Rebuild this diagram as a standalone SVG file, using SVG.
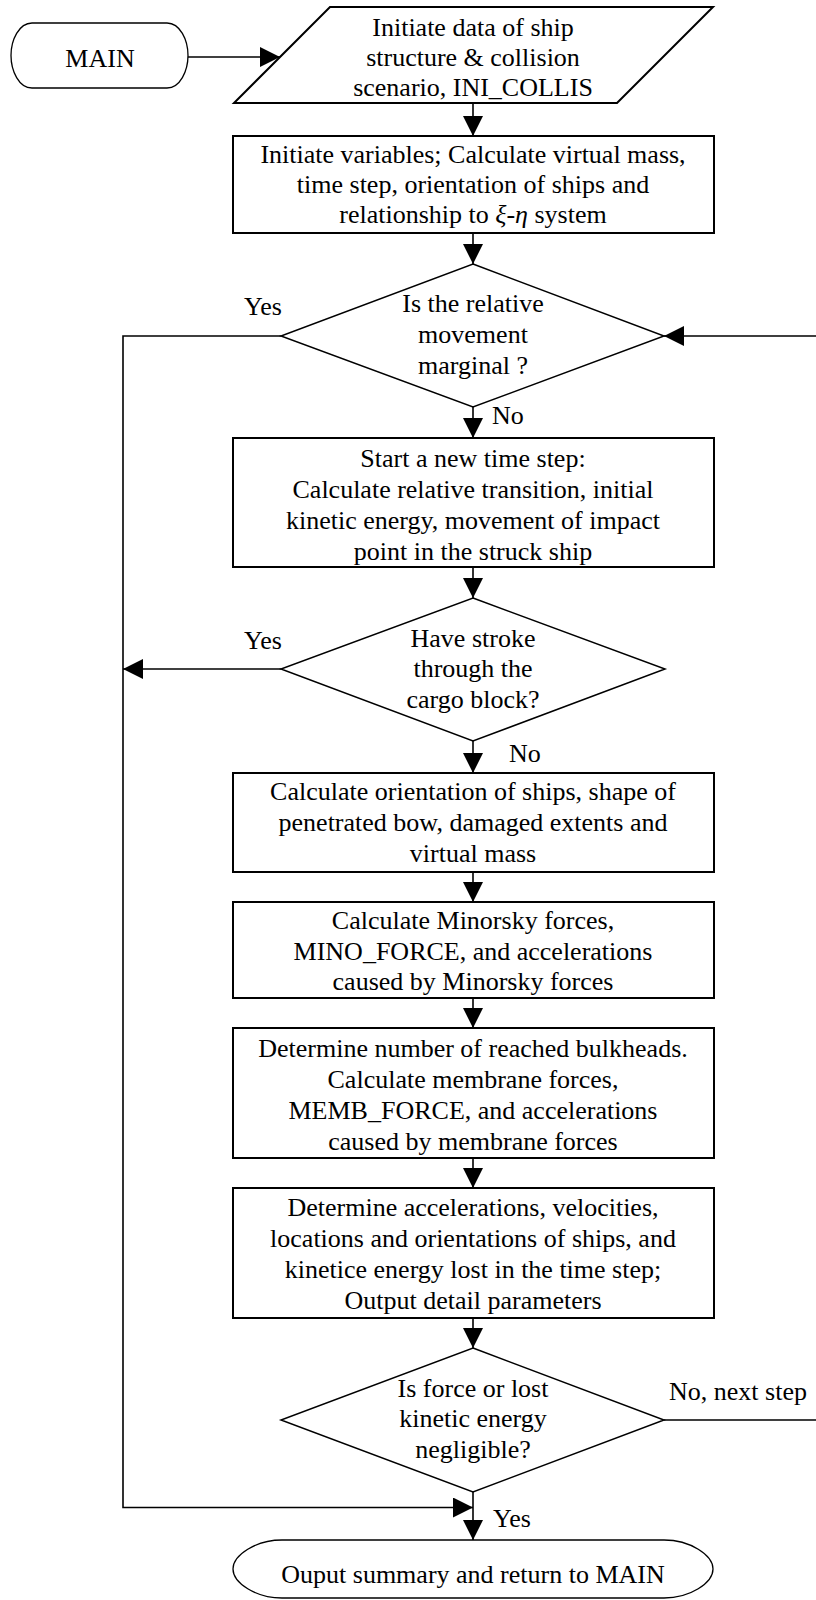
<svg xmlns="http://www.w3.org/2000/svg" width="816" height="1600" viewBox="0 0 816 1600">
<style>
  text { font-family: "Liberation Serif", "Times New Roman", serif; font-size: 26px; fill: #000; }
  .c { text-anchor: middle; }
  .box { fill: #fff; stroke: #000; stroke-width: 2; }
  .dia { fill: #fff; stroke: #000; stroke-width: 1.5; }
  .term { fill: #fff; stroke: #000; stroke-width: 1.3; }
  .conn { fill: none; stroke: #000; stroke-width: 1.6; }
  .i { font-style: italic; }
</style>
<defs>
  <marker id="arr" markerUnits="userSpaceOnUse" markerWidth="22" markerHeight="22" refX="20" refY="10" orient="auto">
    <path d="M0,0 L20,10 L0,20 Z" fill="#000"/>
  </marker>
</defs>

<g id="connectors">
  <path class="conn" d="M188,57 H280" marker-end="url(#arr)"/>
  <path class="conn" d="M473,103 V136" marker-end="url(#arr)"/>
  <path class="conn" d="M473,233 V264" marker-end="url(#arr)"/>
  <path class="conn" d="M473,407 V438" marker-end="url(#arr)"/>
  <path class="conn" d="M473,567 V598" marker-end="url(#arr)"/>
  <path class="conn" d="M473,741 V773" marker-end="url(#arr)"/>
  <path class="conn" d="M473,872 V902" marker-end="url(#arr)"/>
  <path class="conn" d="M473,998 V1028" marker-end="url(#arr)"/>
  <path class="conn" d="M473,1158 V1188" marker-end="url(#arr)"/>
  <path class="conn" d="M473,1318 V1348" marker-end="url(#arr)"/>
  <path class="conn" d="M473,1492 V1540" marker-end="url(#arr)"/>
  <path class="conn" d="M281,336 H123 V1507.5 H473" marker-end="url(#arr)"/>
  <path class="conn" d="M281,669 H123" marker-end="url(#arr)"/>
  <path class="conn" d="M664,1420 H819 V336 H664" marker-end="url(#arr)"/>
  <text x="244" y="315">Yes</text>
  <text x="492" y="424">No</text>
  <text x="244" y="649">Yes</text>
  <text x="509" y="762">No</text>
  <text x="669" y="1400">No, next step</text>
  <text x="493" y="1527">Yes</text>
</g>

<g id="main">
  <path class="term" d="M32,23 H167 C180,23 188,40 188,55.5 C188,71 180,88 167,88 H32 C19,88 11,71 11,55.5 C11,40 19,23 32,23 Z"/>
  <text class="c" x="100" y="66.5">MAIN</text>
</g>

<g id="ini_collis">
  <polygon class="box" points="330,7 713,7 617,103 234,103"/>
  <text class="c" x="473" y="36">Initiate data of ship</text>
  <text class="c" x="473" y="66">structure &amp; collision</text>
  <text class="c" x="473" y="96">scenario, INI_COLLIS</text>
</g>

<g id="init_vars">
  <rect class="box" x="233" y="136" width="481" height="97"/>
  <text class="c" x="473" y="163">Initiate variables; Calculate virtual mass,</text>
  <text class="c" x="473" y="193">time step, orientation of ships and</text>
  <text class="c" x="473" y="223">relationship to <tspan class="i">ξ</tspan>-<tspan class="i">η</tspan> system</text>
</g>

<g id="dec_marginal">
  <polygon class="dia" points="473,264 664,336 473,407 281,336"/>
  <text class="c" x="473" y="312">Is the relative</text>
  <text class="c" x="473" y="343">movement</text>
  <text class="c" x="473" y="374">marginal ?</text>
</g>

<g id="new_step">
  <rect class="box" x="233" y="438" width="481" height="129"/>
  <text class="c" x="473" y="467">Start a new time step:</text>
  <text class="c" x="473" y="498">Calculate relative transition, initial</text>
  <text class="c" x="473" y="529">kinetic energy, movement of impact</text>
  <text class="c" x="473" y="560">point in the struck ship</text>
</g>

<g id="dec_stroke">
  <polygon class="dia" points="473,598 665,669 473,741 281,669"/>
  <text class="c" x="473" y="647">Have stroke</text>
  <text class="c" x="473" y="677">through the</text>
  <text class="c" x="473" y="708">cargo block?</text>
</g>

<g id="orientation">
  <rect class="box" x="233" y="773" width="481" height="99"/>
  <text class="c" x="473" y="800">Calculate orientation of ships, shape of</text>
  <text class="c" x="473" y="831">penetrated bow, damaged extents and</text>
  <text class="c" x="473" y="862">virtual mass</text>
</g>

<g id="mino_force">
  <rect class="box" x="233" y="902" width="481" height="96"/>
  <text class="c" x="473" y="929">Calculate Minorsky forces,</text>
  <text class="c" x="473" y="960">MINO_FORCE, and accelerations</text>
  <text class="c" x="473" y="990">caused by Minorsky forces</text>
</g>

<g id="memb_force">
  <rect class="box" x="233" y="1028" width="481" height="130"/>
  <text class="c" x="473" y="1057">Determine number of reached bulkheads.</text>
  <text class="c" x="473" y="1088">Calculate membrane forces,</text>
  <text class="c" x="473" y="1119">MEMB_FORCE, and accelerations</text>
  <text class="c" x="473" y="1150">caused by membrane forces</text>
</g>

<g id="kinematics">
  <rect class="box" x="233" y="1188" width="481" height="130"/>
  <text class="c" x="473" y="1216">Determine accelerations, velocities,</text>
  <text class="c" x="473" y="1247">locations and orientations of ships, and</text>
  <text class="c" x="473" y="1278">kinetice energy lost in the time step;</text>
  <text class="c" x="473" y="1309">Output detail parameters</text>
</g>

<g id="dec_negligible">
  <polygon class="dia" points="473,1348 664,1420 473,1492 281,1420"/>
  <text class="c" x="473" y="1397">Is force or lost</text>
  <text class="c" x="473" y="1427">kinetic energy</text>
  <text class="c" x="473" y="1458">negligible?</text>
</g>

<g id="output_summary">
  <path class="term" d="M282,1540 H664 C690,1540 713,1555 713,1569 C713,1583 690,1598 664,1598 H282 C256,1598 233,1583 233,1569 C233,1555 256,1540 282,1540 Z"/>
  <text class="c" x="473" y="1583">Ouput summary and return to MAIN</text>
</g>
</svg>
